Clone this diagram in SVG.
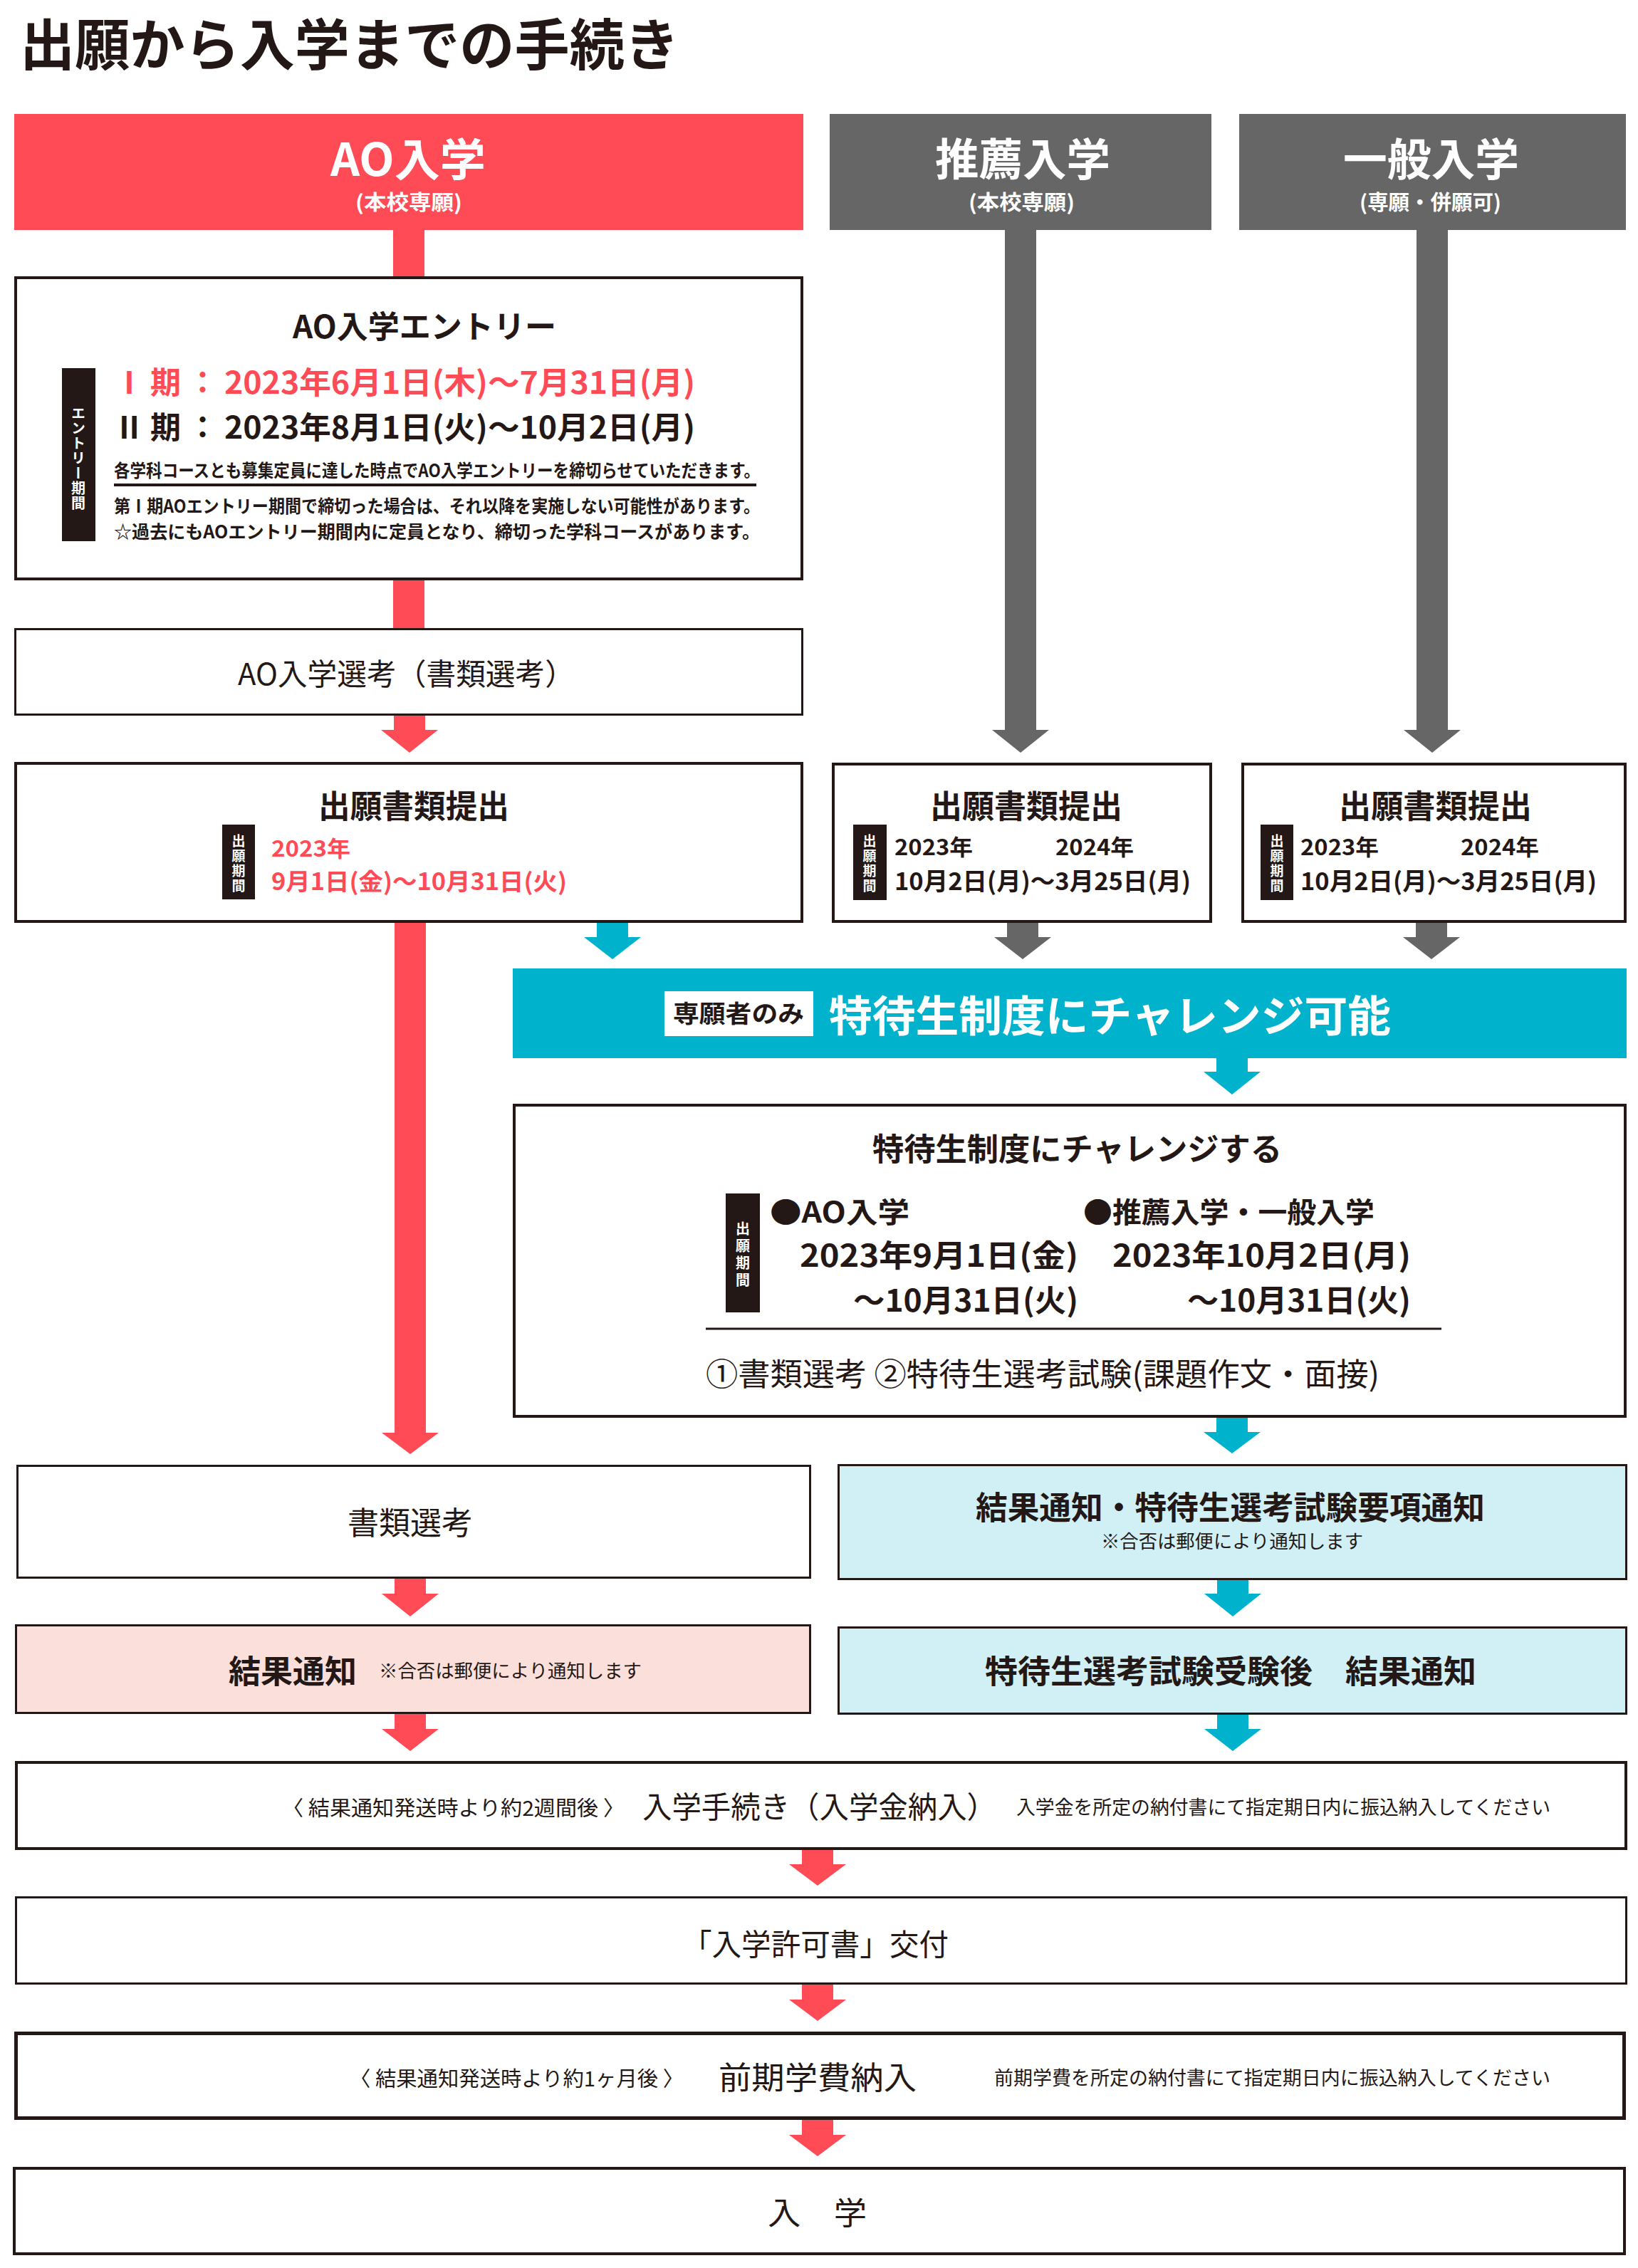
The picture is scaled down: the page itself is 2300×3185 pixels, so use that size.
<svg xmlns="http://www.w3.org/2000/svg" width="2300" height="3185" viewBox="0 0 2300 3185">
<style>
text{font-family:"Noto Sans CJK JP","Noto Sans",sans-serif;fill:#231815}
.b{font-weight:700}
.r{font-weight:400}
.w{fill:#fff}
.red{fill:#fe4b56}
.box{fill:#fff;stroke:#231815}
.v{writing-mode:vertical-rl;font-weight:700;fill:#fff}
.lab{fill:#231815}
.ra{fill:#fe4b56}
.ga{fill:#666}
.ca{fill:#00b2cc}
</style>
<rect width="2300" height="3185" fill="#fff"/>
<g id="title"><text class="b" x="28" y="92" font-size="78" textLength="926" lengthAdjust="spacingAndGlyphs">出願から入学までの手続き</text></g>

<g id="connectors">
<rect class="ra" x="552" y="322" width="44" height="68"/>
<rect class="ra" x="552" y="813" width="44" height="71"/>
<polygon class="ra" points="553,1005 597,1005 597,1025 615,1025 575,1057 535,1025 553,1025"/>
<polygon class="ra" points="554,1294 598,1294 598,2012 616,2012 576,2042 536,2012 554,2012"/>
<polygon class="ca" points="838,1294 882,1294 882,1316 900,1316 860,1347 820,1316 838,1316"/>
<polygon class="ga" points="1411,322 1455,322 1455,1025 1473,1025 1433,1057 1393,1025 1411,1025"/>
<polygon class="ga" points="1989,322 2033,322 2033,1025 2051,1025 2011,1057 1971,1025 1989,1025"/>
<polygon class="ga" points="1414,1294 1458,1294 1458,1316 1476,1316 1436,1347 1396,1316 1414,1316"/>
<polygon class="ga" points="1988,1294 2032,1294 2032,1316 2050,1316 2010,1347 1970,1316 1988,1316"/>
<polygon class="ca" points="1708,1486 1752,1486 1752,1505 1770,1505 1730,1537 1690,1505 1708,1505"/>
<polygon class="ca" points="1708,1989 1752,1989 1752,2011 1770,2011 1730,2041 1690,2011 1708,2011"/>
<polygon class="ra" points="554,2215 598,2215 598,2238 616,2238 576,2270 536,2238 554,2238"/>
<polygon class="ca" points="1709,2217 1753,2217 1753,2238 1771,2238 1731,2270 1691,2238 1709,2238"/>
<polygon class="ra" points="554,2405 598,2405 598,2428 616,2428 576,2459 536,2428 554,2428"/>
<polygon class="ca" points="1709,2406 1753,2406 1753,2428 1771,2428 1731,2459 1691,2428 1709,2428"/>
<polygon class="ra" points="1126,2596 1170,2596 1170,2618 1188,2618 1148,2648 1108,2618 1126,2618"/>
<polygon class="ra" points="1126,2785 1170,2785 1170,2808 1188,2808 1148,2838 1108,2808 1126,2808"/>
<polygon class="ra" points="1126,2975 1170,2975 1170,2998 1188,2998 1148,3028 1108,2998 1126,2998"/>
</g>

<g id="ao-header">
<rect x="20" y="160" width="1108" height="163" fill="#fe4b56"/>
<text class="b w" x="464" y="247" font-size="63" textLength="218" lengthAdjust="spacingAndGlyphs">AO入学</text>
<text class="b w" x="499" y="295" font-size="29" textLength="150" lengthAdjust="spacingAndGlyphs">(本校専願)</text>
</g>
<g id="suisen-header">
<rect x="1165" y="160" width="536" height="163" fill="#666"/>
<text class="b w" x="1313" y="247" font-size="62" textLength="246" lengthAdjust="spacingAndGlyphs">推薦入学</text>
<text class="b w" x="1360" y="295" font-size="29" textLength="149" lengthAdjust="spacingAndGlyphs">(本校専願)</text>
</g>
<g id="ippan-header">
<rect x="1740" y="160" width="543" height="163" fill="#666"/>
<text class="b w" x="1886" y="247" font-size="62" textLength="247" lengthAdjust="spacingAndGlyphs">一般入学</text>
<text class="b w" x="1909" y="295" font-size="29" textLength="199" lengthAdjust="spacingAndGlyphs">(専願・併願可)</text>
</g>

<g id="ao-entry">
<rect class="box" x="22" y="390" width="1104" height="423" stroke-width="4"/>
<text class="b" x="411" y="475" font-size="44" textLength="370" lengthAdjust="spacingAndGlyphs">AO入学エントリー</text>
<rect class="lab" x="87" y="517" width="47" height="243"/>
<text class="v" x="110" y="570" font-size="20" letter-spacing="1">エントリー期間</text>
<text class="b red" x="160 211 263" y="553" font-size="43">Ⅰ期：</text>
<text class="b red" x="315" y="553" font-size="43" textLength="661" lengthAdjust="spacingAndGlyphs">2023年6月1日(木)～7月31日(月)</text>
<text class="b" x="160 211 263" y="616" font-size="43">Ⅱ期：</text>
<text class="b" x="315" y="616" font-size="43" textLength="661" lengthAdjust="spacingAndGlyphs">2023年8月1日(火)～10月2日(月)</text>
<text class="b" x="160" y="670" font-size="25" textLength="907" lengthAdjust="spacingAndGlyphs">各学科コースとも募集定員に達した時点でAO入学エントリーを締切らせていただきます。</text>
<line x1="160" y1="681" x2="1062" y2="681" stroke="#231815" stroke-width="4"/>
<text class="b" x="160" y="720" font-size="25" textLength="907" lengthAdjust="spacingAndGlyphs">第Ⅰ期AOエントリー期間で締切った場合は、それ以降を実施しない可能性があります。</text>
<text class="b" x="160" y="756" font-size="25" textLength="907" lengthAdjust="spacingAndGlyphs">☆過去にもAOエントリー期間内に定員となり、締切った学科コースがあります。</text>
</g>

<g id="ao-senkou">
<rect class="box" x="21.5" y="883.5" width="1105" height="120" stroke-width="3"/>
<text class="r" x="334" y="962" font-size="42" textLength="473" lengthAdjust="spacingAndGlyphs">AO入学選考（書類選考）</text>
</g>

<g id="ao-shutsugan">
<rect class="box" x="22" y="1072" width="1104" height="222" stroke-width="4"/>
<text class="b" x="447" y="1149" font-size="45" textLength="268" lengthAdjust="spacingAndGlyphs">出願書類提出</text>
<rect class="lab" x="312" y="1158" width="46" height="105"/>
<text class="v" x="335" y="1171" font-size="19" letter-spacing="2">出願期間</text>
<text class="b red" x="381" y="1203" font-size="31" textLength="111" lengthAdjust="spacingAndGlyphs">2023年</text>
<text class="b red" x="381" y="1250" font-size="33" textLength="415" lengthAdjust="spacingAndGlyphs">9月1日(金)～10月31日(火)</text>
</g>

<g id="suisen-shutsugan">
<rect class="box" x="1170" y="1073" width="530" height="221" stroke-width="4"/>
<text class="b" x="1306" y="1149" font-size="45" textLength="270" lengthAdjust="spacingAndGlyphs">出願書類提出</text>
<rect class="lab" x="1198" y="1158" width="47" height="106"/>
<text class="v" x="1221" y="1171" font-size="19" letter-spacing="2">出願期間</text>
<text class="b" x="1256" y="1201" font-size="31" textLength="110" lengthAdjust="spacingAndGlyphs">2023年</text>
<text class="b" x="1482" y="1201" font-size="31" textLength="110" lengthAdjust="spacingAndGlyphs">2024年</text>
<text class="b" x="1256" y="1250" font-size="34" textLength="416" lengthAdjust="spacingAndGlyphs">10月2日(月)～3月25日(月)</text>
</g>

<g id="ippan-shutsugan">
<rect class="box" x="1745" y="1073" width="537" height="221" stroke-width="4"/>
<text class="b" x="1880" y="1149" font-size="45" textLength="271" lengthAdjust="spacingAndGlyphs">出願書類提出</text>
<rect class="lab" x="1770" y="1158" width="46" height="106"/>
<text class="v" x="1793" y="1171" font-size="19" letter-spacing="2">出願期間</text>
<text class="b" x="1826" y="1201" font-size="31" textLength="110" lengthAdjust="spacingAndGlyphs">2023年</text>
<text class="b" x="2051" y="1201" font-size="31" textLength="110" lengthAdjust="spacingAndGlyphs">2024年</text>
<text class="b" x="1826" y="1250" font-size="34" textLength="416" lengthAdjust="spacingAndGlyphs">10月2日(月)～3月25日(月)</text>
</g>

<g id="tokutai-banner">
<rect x="720" y="1360" width="1564" height="126" fill="#00b2cc"/>
<rect x="933" y="1392" width="209" height="63" fill="#fff"/>
<text class="b" x="945" y="1436" font-size="34" textLength="184" lengthAdjust="spacingAndGlyphs">専願者のみ</text>
<text class="b w" x="1164" y="1449" font-size="60" textLength="789" lengthAdjust="spacingAndGlyphs">特待生制度にチャレンジ可能</text>
</g>

<g id="tokutai-challenge">
<rect class="box" x="722" y="1552" width="1560" height="437" stroke-width="4"/>
<text class="b" x="1225" y="1630" font-size="44" textLength="575" lengthAdjust="spacingAndGlyphs">特待生制度にチャレンジする</text>
<rect class="lab" x="1019" y="1676" width="48" height="167"/>
<text class="v" x="1043" y="1715" font-size="20" letter-spacing="4">出願期間</text>
<text class="b" x="1081" y="1717" font-size="40" textLength="196" lengthAdjust="spacingAndGlyphs">●AO入学</text>
<text class="b" x="1521" y="1717" font-size="40" textLength="409" lengthAdjust="spacingAndGlyphs">●推薦入学・一般入学</text>
<text class="b" x="1123" y="1779" font-size="43" textLength="391" lengthAdjust="spacingAndGlyphs">2023年9月1日(金)</text>
<text class="b" x="1198" y="1842" font-size="43" textLength="316" lengthAdjust="spacingAndGlyphs">～10月31日(火)</text>
<text class="b" x="1562" y="1779" font-size="43" textLength="419" lengthAdjust="spacingAndGlyphs">2023年10月2日(月)</text>
<text class="b" x="1667" y="1842" font-size="43" textLength="314" lengthAdjust="spacingAndGlyphs">～10月31日(火)</text>
<line x1="991" y1="1866" x2="2024" y2="1866" stroke="#231815" stroke-width="3"/>
<text class="r" x="991" y="1946" font-size="44" textLength="946" lengthAdjust="spacingAndGlyphs">①書類選考 ②特待生選考試験(課題作文・面接)</text>
</g>

<g id="shorui-senkou">
<rect class="box" x="24.5" y="2058.5" width="1113" height="157" stroke-width="3"/>
<text class="r" x="488" y="2155" font-size="44" textLength="176" lengthAdjust="spacingAndGlyphs">書類選考</text>
</g>

<g id="kekka-tsuchi">
<rect x="22.5" y="2282.5" width="1115" height="123" fill="#fbdfda" stroke="#231815" stroke-width="3"/>
<text class="b" x="321" y="2364" font-size="45" textLength="180" lengthAdjust="spacingAndGlyphs">結果通知</text>
<text class="r" x="532" y="2356" font-size="26" textLength="369" lengthAdjust="spacingAndGlyphs">※合否は郵便により通知します</text>
</g>

<g id="youkou-tsuchi">
<rect x="1177.5" y="2057.5" width="1106" height="160" fill="#d1f0f5" stroke="#231815" stroke-width="3"/>
<text class="b" x="1370" y="2134" font-size="45" textLength="715" lengthAdjust="spacingAndGlyphs">結果通知・特待生選考試験要項通知</text>
<text class="r" x="1546" y="2174" font-size="26" textLength="368" lengthAdjust="spacingAndGlyphs">※合否は郵便により通知します</text>
</g>

<g id="jukengo-tsuchi">
<rect x="1177.5" y="2285.5" width="1106" height="121" fill="#d1f0f5" stroke="#231815" stroke-width="3"/>
<text class="b" x="1383" y="2364" font-size="45" textLength="690" lengthAdjust="spacingAndGlyphs">特待生選考試験受験後　結果通知</text>
</g>

<g id="nyugaku-tetsuzuki">
<rect class="box" x="23" y="2475" width="2260" height="121" stroke-width="4"/>
<text class="r" x="396" y="2550" font-size="29" textLength="481" lengthAdjust="spacingAndGlyphs">〈 結果通知発送時より約2週間後 〉</text>
<text class="r" x="902" y="2553" font-size="42" textLength="497" lengthAdjust="spacingAndGlyphs">入学手続き（入学金納入）</text>
<text class="r" x="1427" y="2548" font-size="27" textLength="750" lengthAdjust="spacingAndGlyphs">入学金を所定の納付書にて指定期日内に振込納入してください</text>
</g>

<g id="kyokasho">
<rect class="box" x="22.5" y="2664.5" width="2261" height="121" stroke-width="3"/>
<text class="r" x="958" y="2746" font-size="42" textLength="374" lengthAdjust="spacingAndGlyphs">「入学許可書」交付</text>
</g>

<g id="zenki-gakuhi">
<rect class="box" x="22.5" y="2855.5" width="2258" height="119" stroke-width="5"/>
<text class="r" x="491" y="2930" font-size="29" textLength="469" lengthAdjust="spacingAndGlyphs">〈 結果通知発送時より約1ヶ月後 〉</text>
<text class="r" x="1009" y="2934" font-size="44" textLength="278" lengthAdjust="spacingAndGlyphs">前期学費納入</text>
<text class="r" x="1396" y="2928" font-size="27" textLength="781" lengthAdjust="spacingAndGlyphs">前期学費を所定の納付書にて指定期日内に振込納入してください</text>
</g>

<g id="nyugaku">
<rect class="box" x="20" y="3045" width="2261" height="120" stroke-width="4"/>
<text class="r" x="1078" y="3124" font-size="44" textLength="139" lengthAdjust="spacingAndGlyphs">入　学</text>
</g>
</svg>
